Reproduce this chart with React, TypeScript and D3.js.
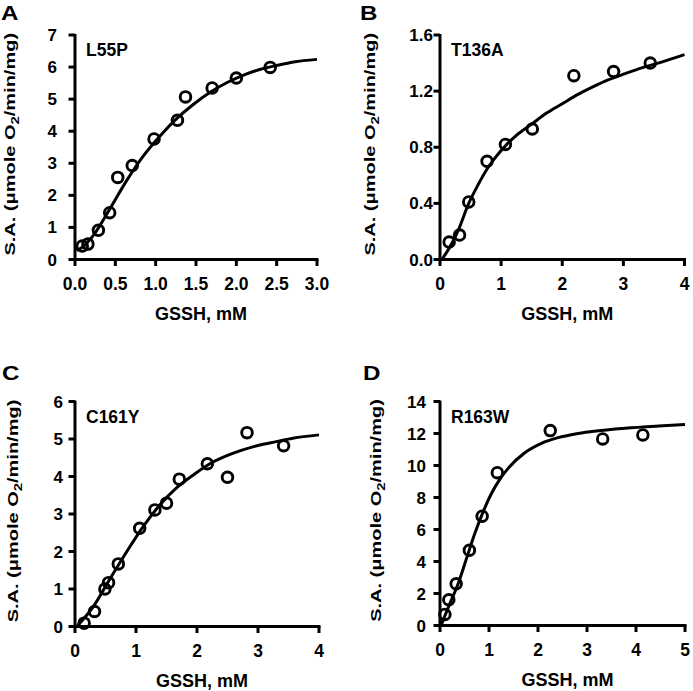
import React from "react";
import * as d3 from "d3";

// ---------- Data ----------
const aPointsX = [0.09, 0.16, 0.29, 0.43, 0.53, 0.71, 0.98, 1.27, 1.37, 1.70, 2.00, 2.42];
const aPointsY = [0.42, 0.48, 0.91, 1.46, 2.56, 2.93, 3.76, 4.34, 5.07, 5.35, 5.66, 5.99];
const aFitX = [0.02, 0.10, 0.23, 0.43, 0.64, 0.85, 1.06, 1.26, 1.47, 1.68, 1.88, 2.09, 2.30, 2.50, 2.71, 3.0];
const aFitY = [0.28, 0.40, 0.76, 1.57, 2.46, 3.24, 3.87, 4.39, 4.84, 5.22, 5.51, 5.75, 5.93, 6.05, 6.16, 6.24];

const bPointsX = [0.15, 0.32, 0.47, 0.77, 1.07, 1.51, 2.19, 2.84, 3.44];
const bPointsY = [0.124, 0.174, 0.41, 0.70, 0.82, 0.93, 1.31, 1.34, 1.40];
const bFitX = [0.03, 0.15, 0.30, 0.47, 0.62, 0.77, 0.92, 1.07, 1.25, 1.50, 1.75, 2.0, 2.25, 2.5, 2.75, 3.03, 3.30, 3.57, 4.0];
const bFitY = [0.0, 0.08, 0.21, 0.40, 0.53, 0.645, 0.735, 0.81, 0.885, 0.965, 1.045, 1.11, 1.175, 1.23, 1.28, 1.325, 1.366, 1.40, 1.46];

const cPointsX = [0.15, 0.32, 0.49, 0.55, 0.71, 1.06, 1.31, 1.50, 1.71, 2.17, 2.50, 2.82, 3.42];
const cPointsY = [0.09, 0.40, 1.0, 1.17, 1.67, 2.62, 3.11, 3.29, 3.93, 4.34, 3.98, 5.17, 4.82];
const cFitX = [0.03, 0.30, 0.57, 0.85, 1.12, 1.39, 1.66, 1.94, 2.21, 2.48, 2.75, 3.03, 3.30, 3.57, 4.0];
const cFitY = [0.0, 0.53, 1.26, 2.0, 2.67, 3.24, 3.69, 4.04, 4.34, 4.55, 4.71, 4.84, 4.93, 5.02, 5.11];

const dPointsX = [0.10, 0.18, 0.33, 0.60, 0.86, 1.17, 2.25, 3.32, 4.14];
const dPointsY = [0.69, 1.61, 2.61, 4.70, 6.83, 9.55, 12.18, 11.66, 11.91];
const dFitX = [0.02, 0.20, 0.37, 0.54, 0.71, 0.88, 1.05, 1.22, 1.39, 1.73, 2.07, 2.41, 2.76, 3.10, 3.78, 4.46, 5.0];
const dFitY = [0.0, 1.36, 2.61, 4.18, 5.75, 7.1, 8.25, 9.13, 9.82, 10.8, 11.39, 11.74, 11.97, 12.12, 12.33, 12.47, 12.56];

const aXTicks = ["0.0", "0.5", "1.0", "1.5", "2.0", "2.5", "3.0"];
const aYTicks = ["0", "1", "2", "3", "4", "5", "6", "7"];
const bXTicks = ["0", "1", "2", "3", "4"];
const bYTicks = ["0.0", "0.4", "0.8", "1.2", "1.6"];
const cXTicks = ["0", "1", "2", "3", "4"];
const cYTicks = ["0", "1", "2", "3", "4", "5", "6"];
const dXTicks = ["0", "1", "2", "3", "4", "5"];
const dYTicks = ["0", "2", "4", "6", "8", "10", "12", "14"];

const letters = ["A", "B", "C", "D"];
const mutants = ["L55P", "T136A", "C161Y", "R163W"];
const xTitle = "GSSH, mM";

// ---------- Layout ----------
const FONT = "'Liberation Sans', Arial, Helvetica, sans-serif";

type Panel = {
  letter: string;
  name: string;
  px: number[]; py: number[]; fx: number[]; fy: number[];
  xTicks: string[]; yTicks: string[];
  left: number; right: number; top: number; bottom: number;
  yLabelRight: number; yTitleX: number; letterX: number; letterY: number;
};

const panels: Panel[] = [
  { letter: letters[0], name: mutants[0], px: aPointsX, py: aPointsY, fx: aFitX, fy: aFitY,
    xTicks: aXTicks, yTicks: aYTicks, left: 75, right: 317, top: 35, bottom: 259.5,
    yLabelRight: 57, yTitleX: 15, letterX: 1, letterY: 20 },
  { letter: letters[1], name: mutants[1], px: bPointsX, py: bPointsY, fx: bFitX, fy: bFitY,
    xTicks: bXTicks, yTicks: bYTicks, left: 440, right: 684.5, top: 35, bottom: 259.5,
    yLabelRight: 433, yTitleX: 375, letterX: 360, letterY: 20 },
  { letter: letters[2], name: mutants[2], px: cPointsX, py: cPointsY, fx: cFitX, fy: cFitY,
    xTicks: cXTicks, yTicks: cYTicks, left: 75, right: 319, top: 401.5, bottom: 626.5,
    yLabelRight: 63, yTitleX: 18, letterX: 2, letterY: 380 },
  { letter: letters[3], name: mutants[3], px: dPointsX, py: dPointsY, fx: dFitX, fy: dFitY,
    xTicks: dXTicks, yTicks: dYTicks, left: 440, right: 685, top: 401.5, bottom: 625.5,
    yLabelRight: 426, yTitleX: 381, letterX: 363, letterY: 380 },
];

function PanelView({ p }: { p: Panel }) {
  const xMax = +p.xTicks[p.xTicks.length - 1];
  const yMax = +p.yTicks[p.yTicks.length - 1];
  const x = d3.scaleLinear().domain([0, xMax]).range([p.left, p.right]);
  const y = d3.scaleLinear().domain([0, yMax]).range([p.bottom, p.top]);
  const fit = p.fx.map((v, i) => [v, p.fy[i]] as [number, number]);
  const line = d3.line<[number, number]>()
    .x((d) => x(d[0]))
    .y((d) => y(d[1]))
    .curve(d3.curveMonotoneX);
  const tickLen = 6.5;
  const sw = 3;
  const cy = (p.top + p.bottom) / 2;
  return (
    <g>
      <text x={p.letterX} y={p.letterY} fontSize={21} fontWeight="bold" fontFamily={FONT}
        transform={`translate(${p.letterX},${p.letterY}) scale(1.15,1) translate(${-p.letterX},${-p.letterY})`}>
        {p.letter}
      </text>
      {/* axes */}
      <line x1={p.left} x2={p.left} y1={p.top - 1} y2={p.bottom + sw / 2} stroke="#000" strokeWidth={sw} />
      <line x1={p.left - sw / 2} x2={p.right + sw / 2} y1={p.bottom} y2={p.bottom} stroke="#000" strokeWidth={sw} />
      {p.yTicks.map((t) => (
        <g key={"y" + t}>
          <line x1={p.left - tickLen} x2={p.left} y1={y(+t)} y2={y(+t)} stroke="#000" strokeWidth={sw} />
          <text x={p.yLabelRight} y={y(+t) + 6} textAnchor="end" fontSize={17} fontWeight="bold" fontFamily={FONT}>{t}</text>
        </g>
      ))}
      {p.xTicks.map((t) => (
        <g key={"x" + t}>
          <line x1={x(+t)} x2={x(+t)} y1={p.bottom} y2={p.bottom + tickLen} stroke="#000" strokeWidth={sw} />
          <text x={x(+t)} y={p.bottom + 30.5} textAnchor="middle" fontSize={17.5} fontWeight="bold" fontFamily={FONT}>{t}</text>
        </g>
      ))}
      <text x={(p.left + p.right) / 2 + 5} y={p.bottom + 60} textAnchor="middle" fontSize={18} fontWeight="bold" fontFamily={FONT}>
        {xTitle}
      </text>
      <text transform={`translate(${p.yTitleX},${cy - 3}) rotate(-90) scale(1,0.72)`} textAnchor="middle"
        fontSize={20} fontWeight="bold" fontFamily={FONT}>
        S.A. (μmole O<tspan dy={6} fontSize={15}>2</tspan><tspan dy={-6}>/min/mg)</tspan>
      </text>
      <text x={p.left + 11} y={p.top + 21} fontSize={17.5} fontWeight="bold" fontFamily={FONT}>{p.name}</text>
      <path d={line(fit) || ""} fill="none" stroke="#000" strokeWidth={3} />
      {p.px.map((v, i) => (
        <circle key={i} cx={x(v)} cy={y(p.py[i])} r={5.3} fill="none" stroke="#000" strokeWidth={2.9} />
      ))}
    </g>
  );
}

export default function App() {
  return (
    <svg width={693} height={691} style={{ position: "absolute", left: 0, top: 0, background: "#fff" }}>
      <rect width={693} height={691} fill="#fff" />
      {panels.map((p) => (
        <PanelView key={p.letter} p={p} />
      ))}
    </svg>
  );
}
